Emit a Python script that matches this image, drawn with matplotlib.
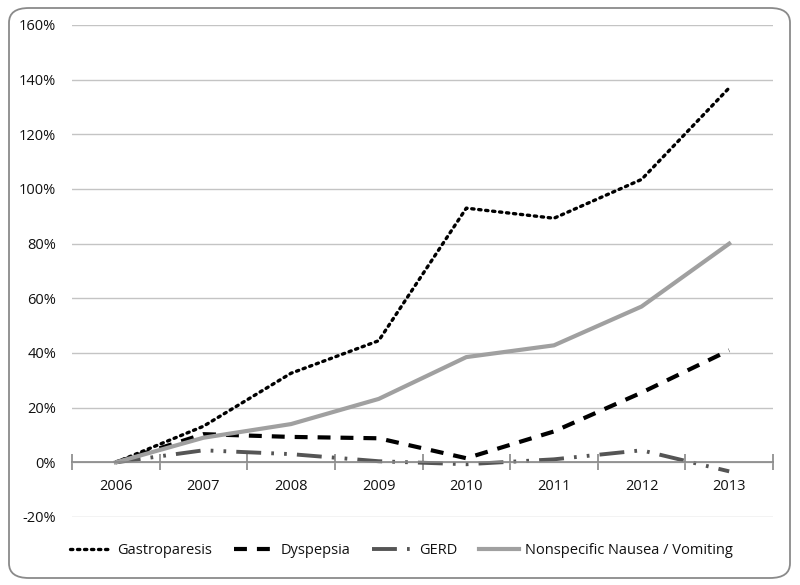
import matplotlib
matplotlib.use("Agg")
import matplotlib.pyplot as plt
from matplotlib.patches import FancyBboxPatch
from matplotlib.ticker import FuncFormatter, FixedLocator

plt.rcParams['font.family'] = ['Open Sans', 'DejaVu Sans']

years = ['2006', '2007', '2008', '2009', '2010', '2011', '2012', '2013']
gastroparesis = [0, 13.2, 32.6, 44.5, 93.0, 89.3, 103.5, 137.0]
dyspepsia = [0, 10.3, 9.3, 8.8, 1.5, 11.3, 25.5, 41.0]
gerd = [0, 4.4, 3.0, 0.4, -0.7, 1.1, 4.4, -3.3]
nausea = [0, 9.0, 14.0, 23.2, 38.5, 42.8, 57.0, 80.0]
yticks = [-20, 0, 20, 40, 60, 80, 100, 120, 140, 160]

fig = plt.figure(figsize=(8, 5.85), dpi=100)
frame = FancyBboxPatch((9/800, 7/585), 781/800, 570/585,
                       boxstyle="round,pad=0,rounding_size=0.025",
                       transform=fig.transFigure, fill=False,
                       edgecolor='#8a8a8a', linewidth=1.3)
fig.patches.append(frame)

ax = fig.add_axes([72/800, 1-517/585, 701/800, 492/585])
x = list(range(len(years)))
ax.plot(x, [v/100 for v in gastroparesis], color='black', lw=2.4,
        linestyle=(0, (0.7, 1.4)), dash_capstyle='round', label='Gastroparesis')
ax.plot(x, [v/100 for v in dyspepsia], color='black', lw=3,
        linestyle=(0, (3.1, 2.4)), label='Dyspepsia')
ax.plot(x, [v/100 for v in gerd], color='#555555', lw=2.8,
        linestyle=(0, (6.4, 2.6, 0.7, 2.6, 0.7, 2.6)), label='GERD')
ax.plot(x, [v/100 for v in nausea], color='#a0a0a0', lw=3,
        label='Nonspecific Nausea / Vomiting')

ax.set_xlim(-0.5, 7.5)
ax.set_ylim(-0.2, 1.6)
ax.set_yticks([v/100 for v in yticks])
ax.yaxis.set_major_formatter(FuncFormatter(lambda v, p: f"{round(v*100):d}%"))
ax.yaxis.grid(True, color='#c4c4c4', lw=1)
ax.set_axisbelow(True)
ax.tick_params(axis='y', length=0, pad=11.5, labelsize=10.5, colors='#111111')

for s in ['top', 'right', 'left']:
    ax.spines[s].set_visible(False)
ax.spines['bottom'].set_position(('data', 0))
ax.spines['bottom'].set_color('#888888')
ax.spines['bottom'].set_linewidth(1.2)
ax.set_xticks(x)
ax.set_xticklabels(years)
ax.xaxis.set_minor_locator(FixedLocator([i - 0.5 for i in range(len(years) + 1)]))
ax.tick_params(axis='x', which='major', length=0, pad=12, labelsize=10.5, colors='#111111')
ax.tick_params(axis='x', which='minor', length=12, direction='inout', color='#888888', width=1.2)

fig.legend(loc='center left', bbox_to_anchor=(57/800, 1-551/585), ncol=4, frameon=False,
           handlelength=2.75, columnspacing=1.5, handletextpad=0.45, fontsize=10.5,
           labelcolor='#111111')

fig.savefig('out.png', dpi=100)
